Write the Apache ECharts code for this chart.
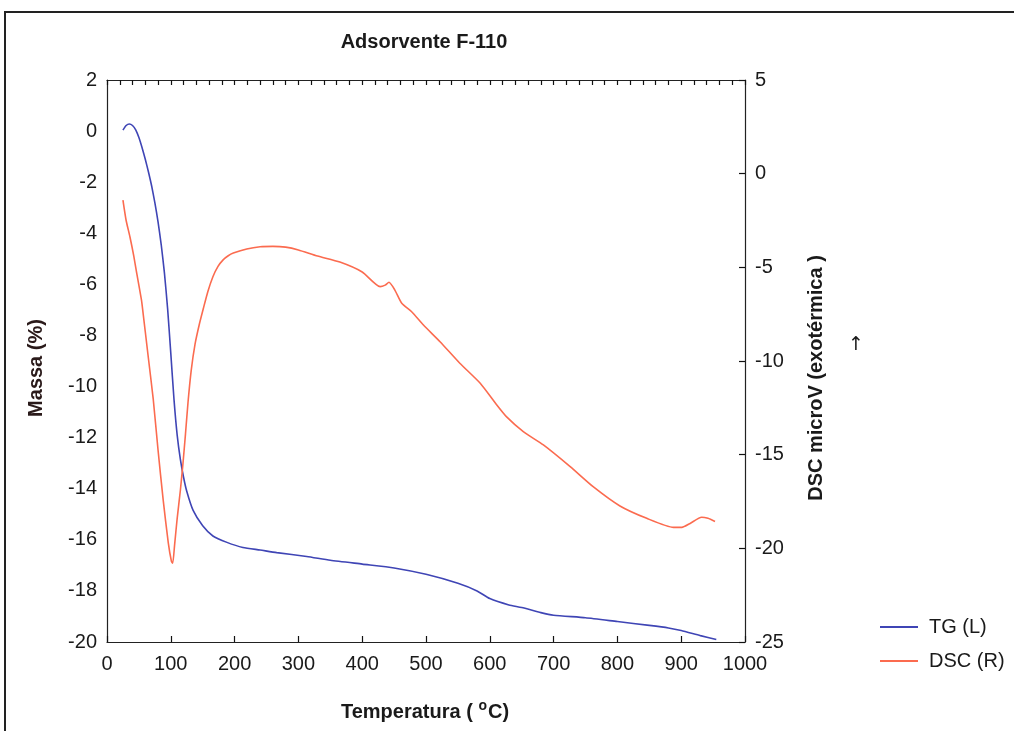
<!DOCTYPE html>
<html>
<head>
<meta charset="utf-8">
<script src="https://cdn.jsdelivr.net/npm/echarts@6/dist/echarts.min.js"></script>
<style>
html,body{margin:0;padding:0;background:#fff;}
#c{width:1014px;height:731px;}
</style>
</head>
<body>
<div id="c"></div>
<script>
// Temperature (°C) and TG mass change (%) - left axis
const tgTemp = [25, 30, 35, 40, 45, 50, 55, 60, 65, 70, 75, 80, 85, 90, 95, 100, 105, 110, 115, 120, 125, 135, 150, 166, 188, 213, 240, 266, 313, 350, 400, 450, 500, 550, 580, 600, 630, 650, 680, 700, 750, 800, 850, 880, 900, 930, 955];
const tgMass = [0.04, 0.22, 0.28, 0.22, 0.05, -0.25, -0.65, -1.1, -1.6, -2.15, -2.8, -3.55, -4.45, -5.55, -6.95, -8.7, -10.5, -11.9, -12.85, -13.55, -14.1, -14.85, -15.45, -15.85, -16.1, -16.3, -16.4, -16.5, -16.65, -16.8, -16.95, -17.1, -17.35, -17.7, -18.0, -18.3, -18.55, -18.65, -18.85, -18.95, -19.05, -19.2, -19.35, -19.45, -19.55, -19.75, -19.9];

// Temperature (°C) and DSC signal (microV) - right axis
const dscTemp = [25, 30, 36, 42, 46.5, 54, 56, 64, 72.6, 80, 88, 96, 101, 103, 106, 110, 115, 119, 123, 127, 132, 138, 145, 151, 158, 166, 174, 182, 190, 198, 219, 240, 260, 280, 300, 330, 365, 400, 428, 436, 442, 451, 462, 477.5, 496, 522, 553, 585, 611, 626, 652.5, 684, 726, 762, 804, 846, 888, 901, 914, 932, 942, 953];
const dscVal = [-1.41, -2.5, -3.38, -4.4, -5.3, -6.74, -7.28, -9.6, -12.08, -14.75, -17.4, -19.7, -20.7, -20.8, -19.8, -18.4, -16.9, -15.5, -13.9, -12.2, -10.5, -9.1, -8.0, -7.2, -6.3, -5.5, -4.95, -4.6, -4.38, -4.24, -4.02, -3.9, -3.88, -3.92, -4.07, -4.4, -4.72, -5.25, -6.03, -5.95, -5.8, -6.2, -6.92, -7.37, -8.08, -8.97, -10.12, -11.19, -12.35, -12.97, -13.77, -14.48, -15.64, -16.71, -17.74, -18.4, -18.88, -18.88, -18.67, -18.34, -18.4, -18.57];

// Axis tick settings
const xTicks = {min: 0, max: 1000, interval: 100};
const xMinor = {min: 0, max: 1000, interval: 20};
const yLeft = {min: -20, max: 2, interval: 2};
const yRight = {min: -25, max: 5, interval: 5};

const tgData = tgTemp.map((t, i) => [t, tgMass[i]]);
const dscData = dscTemp.map((t, i) => [t, dscVal[i]]);

const FONT = '"Liberation Sans", Arial, sans-serif';
const labelStyle = {fontFamily: FONT, fontSize: 20, color: '#1a1a1a', formatter: v => String(v)};
const axisLine = {show: true, onZero: false, lineStyle: {color: '#222', width: 1.2}};
const tickStyle = {color: '#111', width: 1.2};

const chart = echarts.init(document.getElementById('c'), null, {renderer: 'canvas'});
chart.setOption({
  backgroundColor: '#fff',
  animation: false,
  grid: {left: 107, right: 269, top: 80, bottom: 89, containLabel: false},
  xAxis: [
    {type: 'value', position: 'bottom', min: xTicks.min, max: xTicks.max, interval: xTicks.interval,
     axisLine: axisLine, axisTick: {show: true, inside: true, length: 6, lineStyle: tickStyle},
     axisLabel: Object.assign({margin: 12}, labelStyle), splitLine: {show: false}},
    {type: 'value', position: 'top', min: xMinor.min, max: xMinor.max, interval: xMinor.interval,
     axisLine: axisLine, axisTick: {show: true, inside: true, length: 5, lineStyle: tickStyle},
     axisLabel: {show: false}, splitLine: {show: false}}
  ],
  yAxis: [
    {type: 'value', position: 'left', min: yLeft.min, max: yLeft.max, interval: yLeft.interval,
     axisLine: axisLine, axisTick: {show: false},
     axisLabel: Object.assign({margin: 10}, labelStyle), splitLine: {show: false}},
    {type: 'value', position: 'right', min: yRight.min, max: yRight.max, interval: yRight.interval,
     axisLine: axisLine, axisTick: {show: true, inside: true, length: 6, lineStyle: tickStyle},
     axisLabel: Object.assign({margin: 10}, labelStyle), splitLine: {show: false}}
  ],
  legend: {
    orient: 'vertical', left: 875, top: 612, itemGap: 14, itemWidth: 38, itemHeight: 2, icon: 'rect',
    textStyle: {fontFamily: FONT, fontSize: 20, lineHeight: 20, color: '#1a1a1a', padding: [0, 0, 0, 6]},
    data: ['TG (L)', 'DSC (R)']
  },
  series: [
    {name: 'TG (L)', type: 'line', xAxisIndex: 0, yAxisIndex: 0, data: tgData, symbol: 'none',
     smooth: 0.2, lineStyle: {color: '#3f45b5', width: 1.6}, itemStyle: {color: '#3f45b5'}},
    {name: 'DSC (R)', type: 'line', xAxisIndex: 0, yAxisIndex: 1, data: dscData, symbol: 'none',
     smooth: 0.2, lineStyle: {color: '#fb6b4f', width: 1.6}, itemStyle: {color: '#fb6b4f'}}
  ],
  graphic: [
    {type: 'rect', z: -1, silent: true, shape: {x: 5, y: 12, width: 1100, height: 800},
     style: {fill: 'none', stroke: '#222', lineWidth: 2}},
    {type: 'text', x: 424, y: 42, style: {text: 'Adsorvente F-110', fontFamily: FONT, fontWeight: 'bold', fontSize: 20,
      fill: '#1a1a1a', textAlign: 'center', textVerticalAlign: 'middle'}},
    {type: 'text', x: 425, y: 712, style: {text: '{a|Temperatura ( }{s|o}{a|C)}', fontFamily: FONT,
      textAlign: 'center', textVerticalAlign: 'middle',
      rich: {a: {fontFamily: FONT, fontWeight: 'bold', fontSize: 20, fill: '#1a1a1a'},
             s: {fontFamily: FONT, fontWeight: 'bold', fontSize: 14, fill: '#1a1a1a', padding: [0, 1, 12, 0]}}}},
    {type: 'text', x: 36, y: 368, rotation: Math.PI / 2, style: {text: 'Massa (%)', fontFamily: FONT, fontWeight: 'bold',
      fontSize: 20, fill: '#2a1a1a', textAlign: 'center', textVerticalAlign: 'middle'}},
    {type: 'text', x: 816, y: 378, rotation: Math.PI / 2, style: {text: 'DSC microV (exotérmica )', fontFamily: FONT,
      fontWeight: 'bold', fontSize: 20, fill: '#1a1a1a', textAlign: 'center', textVerticalAlign: 'middle'}},
    {type: 'text', x: 856, y: 345, style: {text: '↑', fontFamily: '"DejaVu Sans", sans-serif', fontSize: 19,
      fill: '#1a1a1a', textAlign: 'center', textVerticalAlign: 'middle'}}
  ]
});
</script>
</body>
</html>
